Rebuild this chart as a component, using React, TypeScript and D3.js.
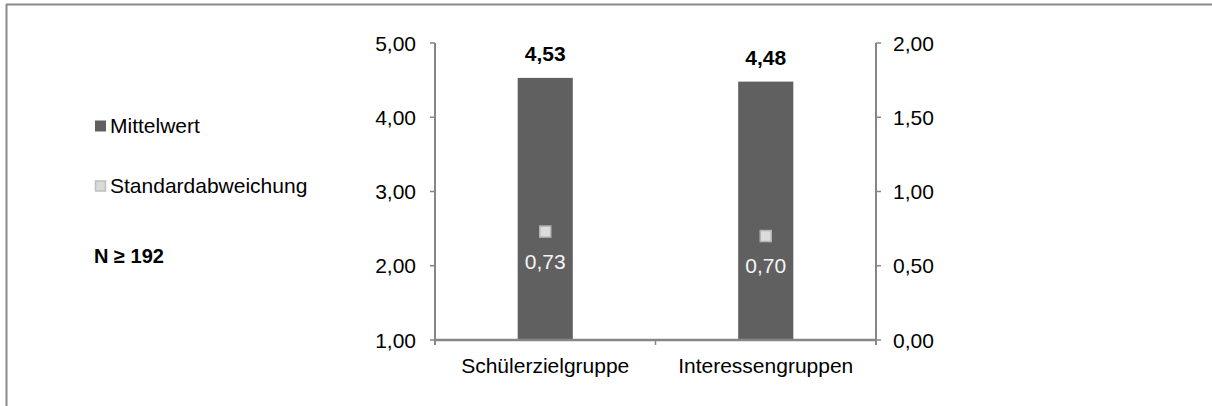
import React from "react";
import * as d3 from "d3";

const categories = ["Schülerzielgruppe", "Interessengruppen"];
const meanValues = [4.53, 4.48];
const sdValues = [0.73, 0.7];
const leftTicks = [1, 2, 3, 4, 5];
const rightTicks = [0, 0.5, 1, 1.5, 2];
const legendItems = ["Mittelwert", "Standardabweichung"];
const sampleNote = "N ≥ 192";

const W = 1212;
const H = 406;
const FONT = "'Liberation Sans', Arial, sans-serif";
const FS = 21;
const AXIS = "#868686";
const BAR = "#606060";

const fmt = (v: number) => v.toFixed(2).replace(".", ",");

export default function App() {
  const plot = { left: 435, right: 876, top: 43, bottom: 340 };

  const x = d3.scaleBand<string>().domain(categories).range([plot.left, plot.right]).paddingInner(0).paddingOuter(0);
  const yL = d3.scaleLinear().domain([1, 5]).range([plot.bottom, plot.top]);
  const yR = d3.scaleLinear().domain([0, 2]).range([plot.bottom, plot.top]);
  const barW = x.bandwidth() * 0.25;

  return (
    <svg
      width={W}
      height={H}
      style={{ position: "absolute", left: 0, top: 0, background: "#fff", fontFamily: FONT }}
    >
      {/* outer frame */}
      <line x1={6} y1={4.5} x2={W} y2={4.5} stroke="#8a8a8a" strokeWidth={2} />
      <line x1={6.5} y1={4} x2={6.5} y2={H} stroke="#8a8a8a" strokeWidth={2} />

      {/* legend */}
      {legendItems.map((name, i) => {
        const cy = 126 + i * 60;
        return (
          <g key={name}>
            {i === 0 ? (
              <rect x={95} y={cy - 5.5} width={11} height={11} fill={BAR} />
            ) : (
              <rect x={95.5} y={cy - 5} width={10} height={10} fill="#d9d9d9" stroke="#bfbfbf" strokeWidth={1.5} />
            )}
            <text x={110} y={cy + 7} fontSize={FS} fill="#000">
              {name}
            </text>
          </g>
        );
      })}
      <text x={94} y={263} fontSize={FS - 1} fontWeight="bold" fill="#000">
        {sampleNote}
      </text>

      {/* bars */}
      {categories.map((c, i) => {
        const cx = (x(c) as number) + x.bandwidth() / 2;
        const top = yL(meanValues[i]);
        return (
          <g key={c}>
            <rect x={cx - barW / 2} y={top} width={barW} height={plot.bottom - top} fill={BAR} />
            <text x={cx} y={top - 17} fontSize={FS} fontWeight="bold" textAnchor="middle" fill="#000">
              {fmt(meanValues[i])}
            </text>
          </g>
        );
      })}

      {/* standard deviation markers */}
      {categories.map((c, i) => {
        const cx = (x(c) as number) + x.bandwidth() / 2;
        const cy = yR(sdValues[i]);
        return (
          <g key={c + "-sd"}>
            <rect x={cx - 5.5} y={cy - 5.5} width={11} height={11} fill="#dcdcdc" stroke="#b4b4b4" strokeWidth={1.5} />
            <text x={cx} y={cy + 37} fontSize={FS} textAnchor="middle" fill="#f4f4f4">
              {fmt(sdValues[i])}
            </text>
          </g>
        );
      })}

      {/* left axis */}
      <line x1={plot.left} y1={plot.top} x2={plot.left} y2={plot.bottom + 5} stroke={AXIS} strokeWidth={2} />
      {leftTicks.map((t) => (
        <g key={"l" + t}>
          <line x1={plot.left - 5} x2={plot.left} y1={yL(t)} y2={yL(t)} stroke={AXIS} strokeWidth={1.5} />
          <text x={plot.left - 19} y={yL(t) + 7.5} fontSize={FS} textAnchor="end" fill="#000">
            {fmt(t)}
          </text>
        </g>
      ))}

      {/* right axis */}
      <line x1={plot.right} y1={plot.top} x2={plot.right} y2={plot.bottom + 5} stroke={AXIS} strokeWidth={2} />
      {rightTicks.map((t) => (
        <g key={"r" + t}>
          <line x1={plot.right} x2={plot.right + 5} y1={yR(t)} y2={yR(t)} stroke={AXIS} strokeWidth={1.5} />
          <text x={plot.right + 17} y={yR(t) + 7.5} fontSize={FS} textAnchor="start" fill="#000">
            {fmt(t)}
          </text>
        </g>
      ))}

      {/* category axis */}
      <line x1={plot.left} y1={plot.bottom} x2={plot.right} y2={plot.bottom} stroke={AXIS} strokeWidth={2.5} />
      {[...categories.map((c) => x(c) as number), plot.right].map((px, i) => (
        <line key={"xt" + i} x1={px} x2={px} y1={plot.bottom} y2={plot.bottom + 5} stroke={AXIS} strokeWidth={1.5} />
      ))}
      {categories.map((c) => (
        <text
          key={"xl" + c}
          x={(x(c) as number) + x.bandwidth() / 2}
          y={373}
          fontSize={FS}
          textAnchor="middle"
          fill="#000"
        >
          {c}
        </text>
      ))}
    </svg>
  );
}
